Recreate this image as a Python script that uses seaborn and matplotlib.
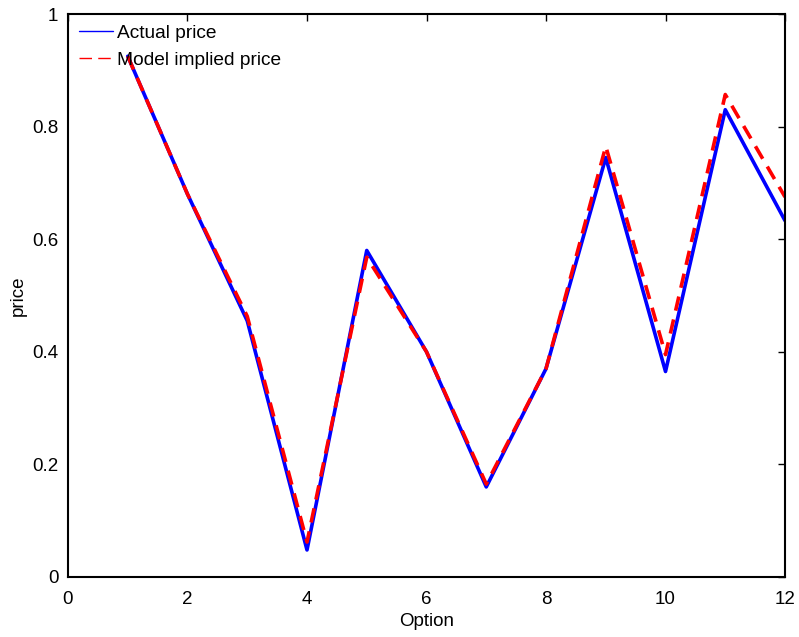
import matplotlib
matplotlib.use("Agg")
import matplotlib.pyplot as plt
import seaborn as sns
import pandas as pd

options = [1, 2, 3, 4, 5, 6, 7, 8, 9, 10, 11, 12]
actual_price = [0.925, 0.68, 0.455, 0.048, 0.58, 0.40, 0.16, 0.37, 0.745, 0.365, 0.83, 0.633]
model_price = [0.925, 0.68, 0.463, 0.062, 0.568, 0.40, 0.165, 0.37, 0.765, 0.395, 0.857, 0.675]

sns.set_theme(style="white", rc={"text.color": "black", "axes.labelcolor": "black",
                                 "xtick.color": "black", "ytick.color": "black"})
plt.rcParams["font.family"] = ["Liberation Sans", "DejaVu Sans"]

df = pd.DataFrame({"Option": options, "Actual": actual_price, "Model": model_price})

fig = plt.figure(figsize=(7.99, 6.37), dpi=100)
ax = fig.add_axes([0.0851, 0.0942, 0.8974, 0.8838])

sns.lineplot(data=df, x="Option", y="Actual", ax=ax, color="#0000ff",
             linewidth=2.6, label="Actual price")
sns.lineplot(data=df, x="Option", y="Model", ax=ax, color="#ff0000",
             linewidth=2.6, linestyle=(0, (4, 2.5)), label="Model implied price")

ax.set_xlim(0, 12)
ax.set_ylim(0, 1)
ax.set_xticks([0, 2, 4, 6, 8, 10, 12])
ax.set_yticks([0, 0.2, 0.4, 0.6, 0.8, 1])
ax.set_yticklabels(["0", "0.2", "0.4", "0.6", "0.8", "1"])
ax.set_xlabel("Option", fontsize=13.5, labelpad=4)
ax.set_ylabel("price", fontsize=13.5, labelpad=4)
ax.tick_params(direction="in", length=5, width=1, top=True, right=True,
               labelsize=13.5, colors="black")
ax.tick_params(axis="x", pad=10)
ax.tick_params(axis="y", pad=7)
for s in ax.spines.values():
    s.set_visible(True)
    s.set_color("black")
    s.set_linewidth(1.5)

leg = ax.legend(loc="upper left", frameon=False,
                prop={"family": ["Liberation Sans", "DejaVu Sans"], "size": 13.8},
                handlelength=1.8, handletextpad=0.2, borderaxespad=0.25,
                borderpad=0.3, labelspacing=0.5)
for line in leg.get_lines():
    line.set_linewidth(1.0)
leg.get_lines()[1].set_linestyle((0, (9, 4.5)))

fig.savefig("out.png", dpi=100)
